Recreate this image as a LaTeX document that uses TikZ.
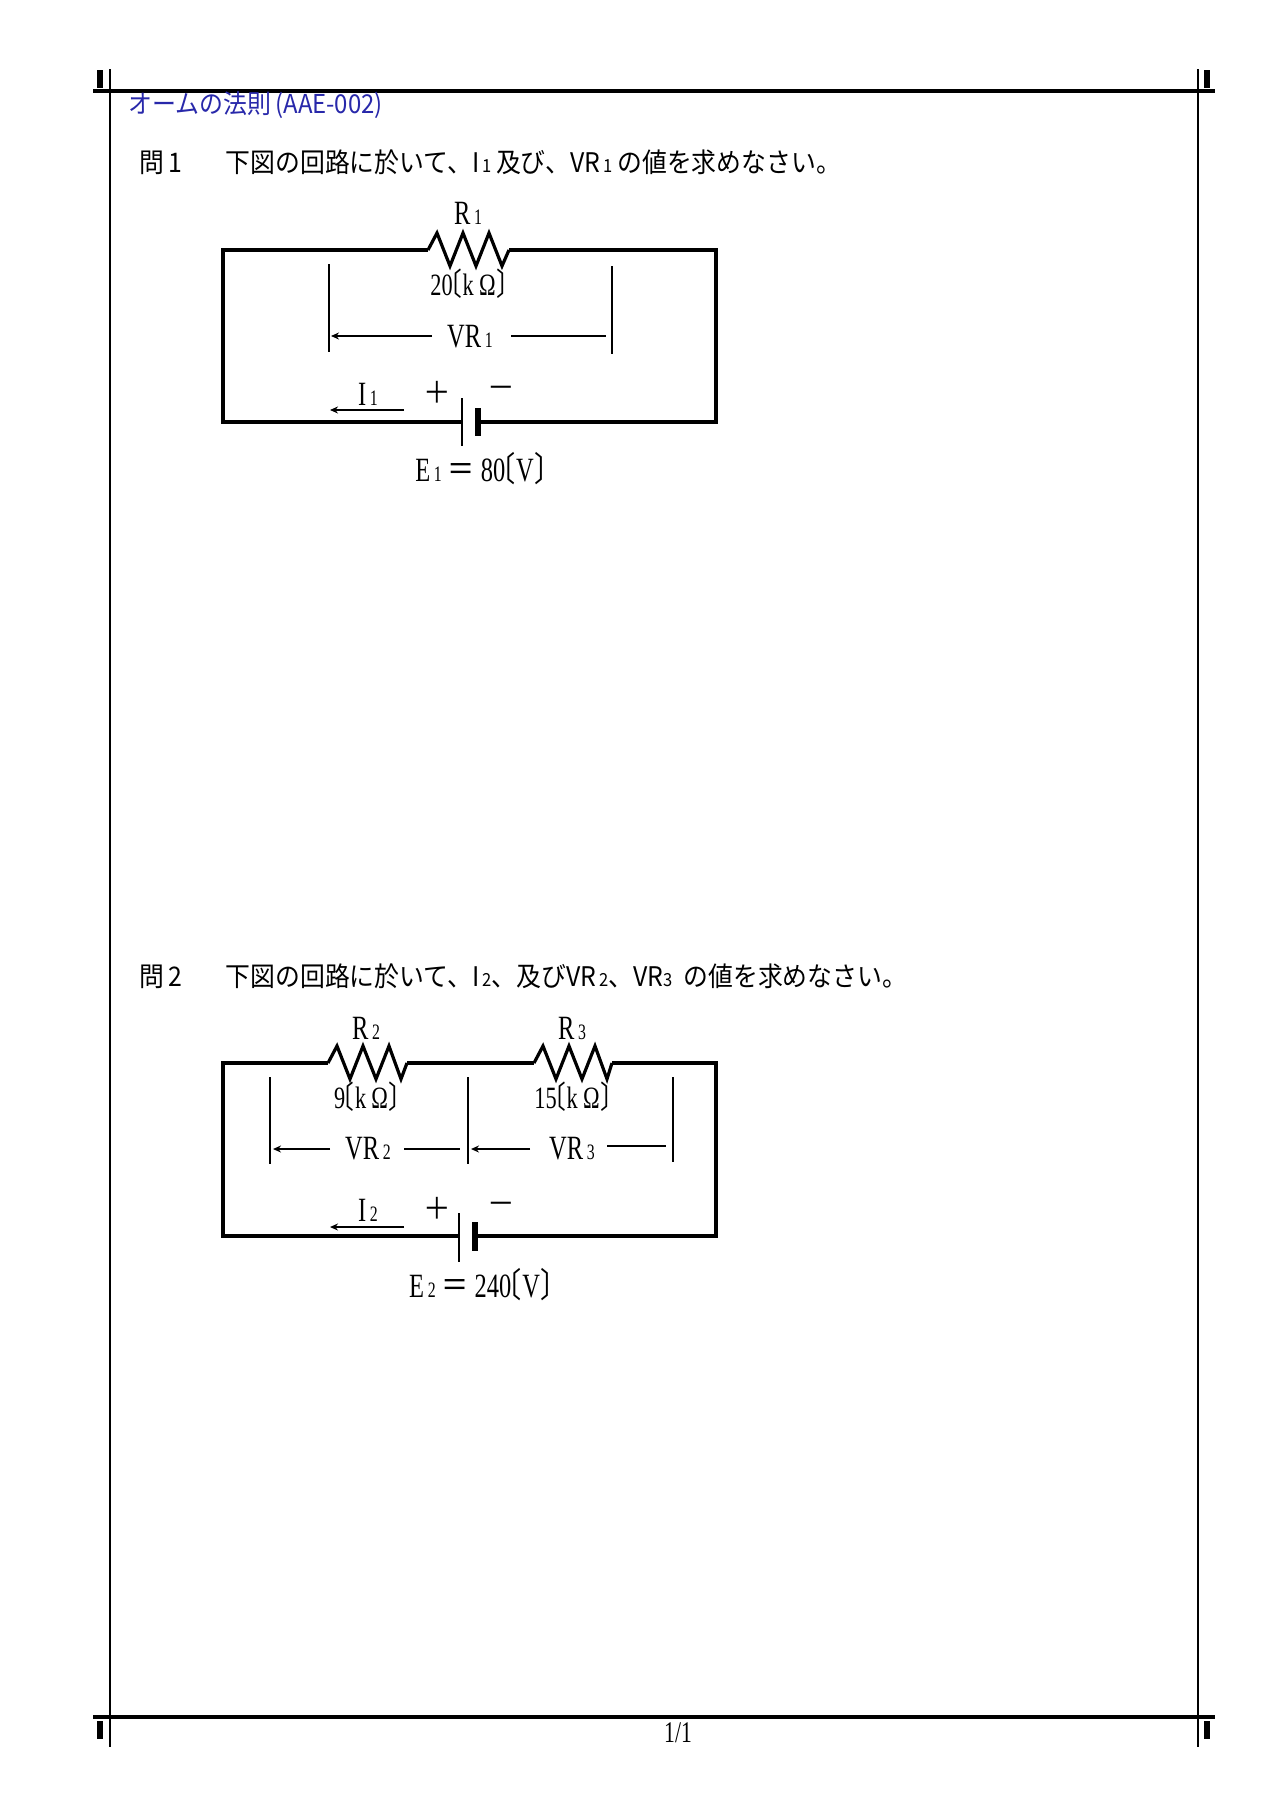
\documentclass[tikz,border=0pt]{standalone}
\usepackage{fontspec}
\setmainfont{Liberation Serif}
\newfontfamily\jp{Noto Sans CJK JP}[FakeStretch=0.92]
\newfontfamily\jpb{Noto Sans CJK JP}[FakeStretch=0.8]
\newfontfamily\cond{Liberation Serif}[FakeStretch=0.72]
\usetikzlibrary{arrows.meta}
\definecolor{titleblue}{RGB}{40,40,170}
\newcommand{\lbr}{{\jpb\kern-0.5em〔\kern0.02em}}
\newcommand{\rbr}{{\jpb\kern0.02em〕\kern-0.5em}}
\begin{document}
\begin{tikzpicture}[x=0.5pt,y=-0.5pt,
  wire/.style={line width=1.6pt},
  frameline/.style={line width=1.3pt},
  bar/.style={line width=0.8pt},
  varrow/.style={line width=0.8pt,-{Stealth[length=4pt,width=3.5pt]}},
  lbl/.style={inner sep=0pt,font=\cond\fontsize{17}{17}\selectfont},
  vlbl/.style={inner sep=0pt,font=\cond\fontsize{15.5}{16}\selectfont},
  pm/.style={inner sep=0pt,font=\jp\fontsize{15}{15}\selectfont},
  qtext/.style={anchor=west,inner sep=0pt,font=\jp\fontsize{13.5}{14}\selectfont},
  tick/.style={fill=black}]
\useasboundingbox (0,0) rectangle (1280,1811);
% frame
\draw[line width=2pt] (93,91) -- (1215,91);
\draw[line width=2pt] (93,1717) -- (1215,1717);
\draw[frameline] (110,69) -- (110,1747);
\draw[frameline] (1198,69) -- (1198,1747);
\fill[tick] (97,70) rectangle (103,88);
\fill[tick] (1204,70) rectangle (1210,88);
\fill[tick] (97,1721) rectangle (103,1739);
\fill[tick] (1204,1721) rectangle (1210,1739);
\node[anchor=west,inner sep=0pt,text=titleblue,font=\jp\fontsize{13}{14}\selectfont] (title) at (128,105) {オームの法則\,(AAE-002)};
\node[lbl,font=\cond\fontsize{15}{15}\selectfont] (page) at (678,1733) {1/1};
% question 1
\node[qtext] (q1) at (139,162) {問\,1\hspace{1.6em}下図の回路に於いて、I{\small\,1}\,及び、VR{\small\,1}\,の値を求めなさい。};
% circuit 1
\coordinate (a1) at (223,250); \coordinate (b1) at (716,250);
\coordinate (c1) at (716,422); \coordinate (d1) at (223,422);
\coordinate (r1s) at (428,250); \coordinate (r1e) at (509,250);
\draw[wire,line join=miter] (r1s) -- (a1) -- (d1) -- (462,422);
\draw[wire] (478,422) -- (c1) -- (b1) -- (r1e);
\draw[wire] (r1s) -- (437,233) -- (450,266) -- (463,233) -- (476,266) -- (489,233) -- (502,266) -- (r1e);
\draw[line width=1.2pt] (462,398) -- (462,446);
\draw[line width=3pt] (478,408) -- (478,436);
\node[lbl] (R1) at (468,213) {R{\fontsize{11}{11}\selectfont\,1}};
\node[vlbl] (R1v) at (468,284) {20\lbr k\,Ω\rbr};
\draw[bar] (329,264) -- (329,352);
\draw[bar] (612,266) -- (612,354);
\node[lbl] (VR1) at (470,337) {VR{\fontsize{11}{11}\selectfont\,1}};
\draw[varrow] (432,336) -- (331,336);
\draw[bar] (511,336) -- (606,336);
\node[lbl] (I1) at (368,394) {I{\fontsize{11}{11}\selectfont\,1}};
\draw[varrow] (404,410) -- (330,410);
\node[pm] (p1) at (437,392) {＋};
\node[pm] (m1) at (501,392) {－};
\node[lbl] (E1) at (480,469) {E{\fontsize{11}{11}\selectfont\,1}\,{\jpb ＝} 80\lbr V\rbr};
% question 2
\node[qtext] (q2) at (139,976) {問\,2\hspace{1.6em}下図の回路に於いて、I{\small\,2}、及びVR{\small\,2}、VR{\small 3}\ \ の値を求めなさい。};
% circuit 2
\coordinate (a2) at (223,1063); \coordinate (b2) at (716,1063);
\coordinate (c2) at (716,1236); \coordinate (d2) at (223,1236);
\draw[wire] (328,1063) -- (a2) -- (d2) -- (459,1236);
\draw[wire] (475,1236) -- (c2) -- (b2) -- (612,1063);
\draw[wire] (407,1063) -- (534,1063);
\draw[wire] (328,1063) -- (337,1046) -- (350,1079) -- (363,1046) -- (376,1079) -- (389,1046) -- (401,1079) -- (407,1063);
\draw[wire] (534,1063) -- (543,1046) -- (556,1079) -- (569,1046) -- (582,1079) -- (595,1046) -- (607,1079) -- (612,1063);
\draw[line width=1.2pt] (459,1213) -- (459,1262);
\draw[line width=3pt] (475,1222) -- (475,1251);
\node[lbl] (R2) at (366,1028) {R{\fontsize{11}{11}\selectfont\,2}};
\node[lbl] (R3) at (572,1028) {R{\fontsize{11}{11}\selectfont\,3}};
\node[vlbl] (R2v) at (366,1097) {9\lbr k\,Ω\rbr};
\node[vlbl] (R3v) at (572,1097) {15\lbr k\,Ω\rbr};
\draw[bar] (270,1077) -- (270,1164);
\draw[bar] (468,1077) -- (468,1164);
\draw[bar] (673,1077) -- (673,1162);
\node[lbl] (VR2) at (368,1149) {VR{\fontsize{11}{11}\selectfont\,2}};
\node[lbl] (VR3) at (572,1149) {VR{\fontsize{11}{11}\selectfont\,3}};
\draw[varrow] (330,1149) -- (273,1149);
\draw[bar] (404,1149) -- (460,1149);
\draw[varrow] (530,1149) -- (471,1149);
\draw[bar] (607,1146) -- (666,1146);
\node[lbl] (I2) at (368,1210) {I{\fontsize{11}{11}\selectfont\,2}};
\draw[varrow] (404,1227) -- (330,1227);
\node[pm] (p2) at (437,1208) {＋};
\node[pm] (m2) at (501,1208) {－};
\node[lbl] (E2) at (480,1285) {E{\fontsize{11}{11}\selectfont\,2}\,{\jpb ＝} 240\lbr V\rbr};
\end{tikzpicture}
\end{document}
